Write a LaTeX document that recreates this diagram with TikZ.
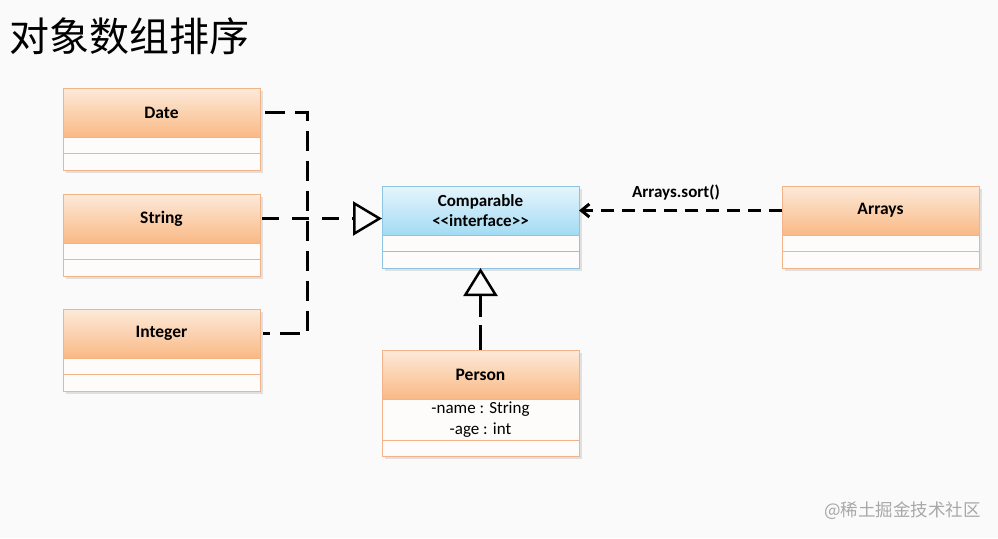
\documentclass[tikz,border=0pt]{standalone}
\usepackage{fontspec}
\setmainfont{Carlito}
\newfontfamily\cjk{Noto Sans CJK SC}
\usetikzlibrary{arrows.meta,backgrounds}
\definecolor{pagebg}{HTML}{FAFAFA}
\definecolor{otop}{HTML}{FDEADA}
\definecolor{omid}{HTML}{FCD5B3}
\definecolor{obot}{HTML}{F9B985}
\definecolor{obord}{HTML}{F2B388}
\definecolor{btop}{HTML}{E6F5FC}
\definecolor{bmid}{HTML}{C4E8F9}
\definecolor{bbot}{HTML}{A3DBF4}
\definecolor{bbord}{HTML}{8CC4E2}
\definecolor{cfill}{HTML}{FEFCFB}
\definecolor{wmark}{HTML}{A8A8A8}
\tikzset{
  hdr/.style={draw=obord, line width=0.8pt, top color=otop, middle color=omid, bottom color=obot,
    minimum width=197pt, minimum height=49pt, inner sep=0pt, outer sep=0pt,
    font=\fontsize{17.5}{20}\selectfont\bfseries, anchor=north west},
  bhdr/.style={hdr, draw=bbord, top color=btop, middle color=bmid, bottom color=bbot},
  cmp/.style={draw=obord, line width=0.8pt, fill=cfill, minimum width=197pt, minimum height=16.5pt,
    inner sep=0pt, outer sep=0pt, anchor=north, font=\fontsize{17}{21}\selectfont, align=center},
  bcmp/.style={cmp, draw=bbord},
  dep/.style={line width=3pt, dash pattern=on 20pt off 10pt},
  shadowfill/.style={fill=black, opacity=0.10},
}
\begin{document}
\begin{tikzpicture}[x=1pt,y=1pt]
\useasboundingbox (0,0) rectangle (998,-538);
\begin{pgfonlayer}{background}
  \fill[pagebg] (0,0) rectangle (998,-538);
\end{pgfonlayer}

% title
\node[anchor=west, inner sep=0pt, font=\cjk\fontsize{40}{42}\selectfont] (title) at (9,-36) {对象数组排序};

% Date
\node[hdr] (date) at (63,-88) {Date};
\node[cmp] (date2) at (date.south) {};
\node[cmp] (date3) at (date2.south) {};
% String
\node[hdr] (string) at (63,-194) {String};
\node[cmp] (string2) at (string.south) {};
\node[cmp] (string3) at (string2.south) {};
% Integer
\node[hdr] (integer) at (63,-309) {Integer};
\node[cmp] (integer2) at (integer.south) {};
\node[cmp] (integer3) at (integer2.south) {};
% Comparable
\node[bhdr, align=center, font=\fontsize{17}{21}\selectfont\bfseries] (comparable) at (382,-186) {Comparable\\[-1pt]{<}{<}interface{>}{>}};
\node[bcmp] (comparable2) at (comparable.south) {};
\node[bcmp] (comparable3) at (comparable2.south) {};
% Person
\node[hdr] (person) at (382,-350) {Person};
\node[cmp, minimum height=41pt] (person2) at (person.south) {-name : String\\-age : int};
\node[cmp] (person3) at (person2.south) {};
% Arrays
\node[hdr] (arrays) at (782,-186) {Arrays};
\node[cmp] (arrays2) at (arrays.south) {};
\node[cmp] (arrays3) at (arrays2.south) {};

% shadows
\begin{pgfonlayer}{background}
  \foreach \a/\b in {date/date3, string/string3, integer/integer3, comparable/comparable3, person/person3, arrays/arrays3}{
    \fill[shadowfill] ([shift={(2.5pt,-2.5pt)}]\a.north west) rectangle ([shift={(2.5pt,-2.5pt)}]\b.south east);
  }
\end{pgfonlayer}

% connectors
\coordinate (jn) at (307,-218);
\draw[dep] ([xshift=5pt]date.east) -| (jn) |- ([xshift=3pt]integer.east);
\draw[line width=3pt, dash pattern=on 17pt off 13pt,
  -{Triangle[open, length=29pt, width=34pt, line width=2.5pt]}]
  ([xshift=2pt]string.east) -- (string.east -| comparable.west);
\draw[line width=3pt, dash pattern=on 25pt off 8pt,
  -{Triangle[open, length=28pt, width=34pt, line width=2.5pt]}]
  (person.north) -- (comparable3.south);
\draw[line width=3pt, dash pattern=on 13pt off 8pt,
  -{Straight Barb[length=8pt, width=13pt, line width=3pt]}]
  (arrays.west) -- (comparable.east);
\node[font=\fontsize{17}{20}\selectfont\bfseries, inner sep=0pt] (sortlbl) at (676,-193) {Arrays.sort()};

% watermark
\node[anchor=east, inner sep=0pt, text=wmark, font=\cjk\fontsize{17.5}{20}\selectfont] (wm) at (981,-511) {@稀土掘金技术社区};
\end{tikzpicture}
\end{document}
